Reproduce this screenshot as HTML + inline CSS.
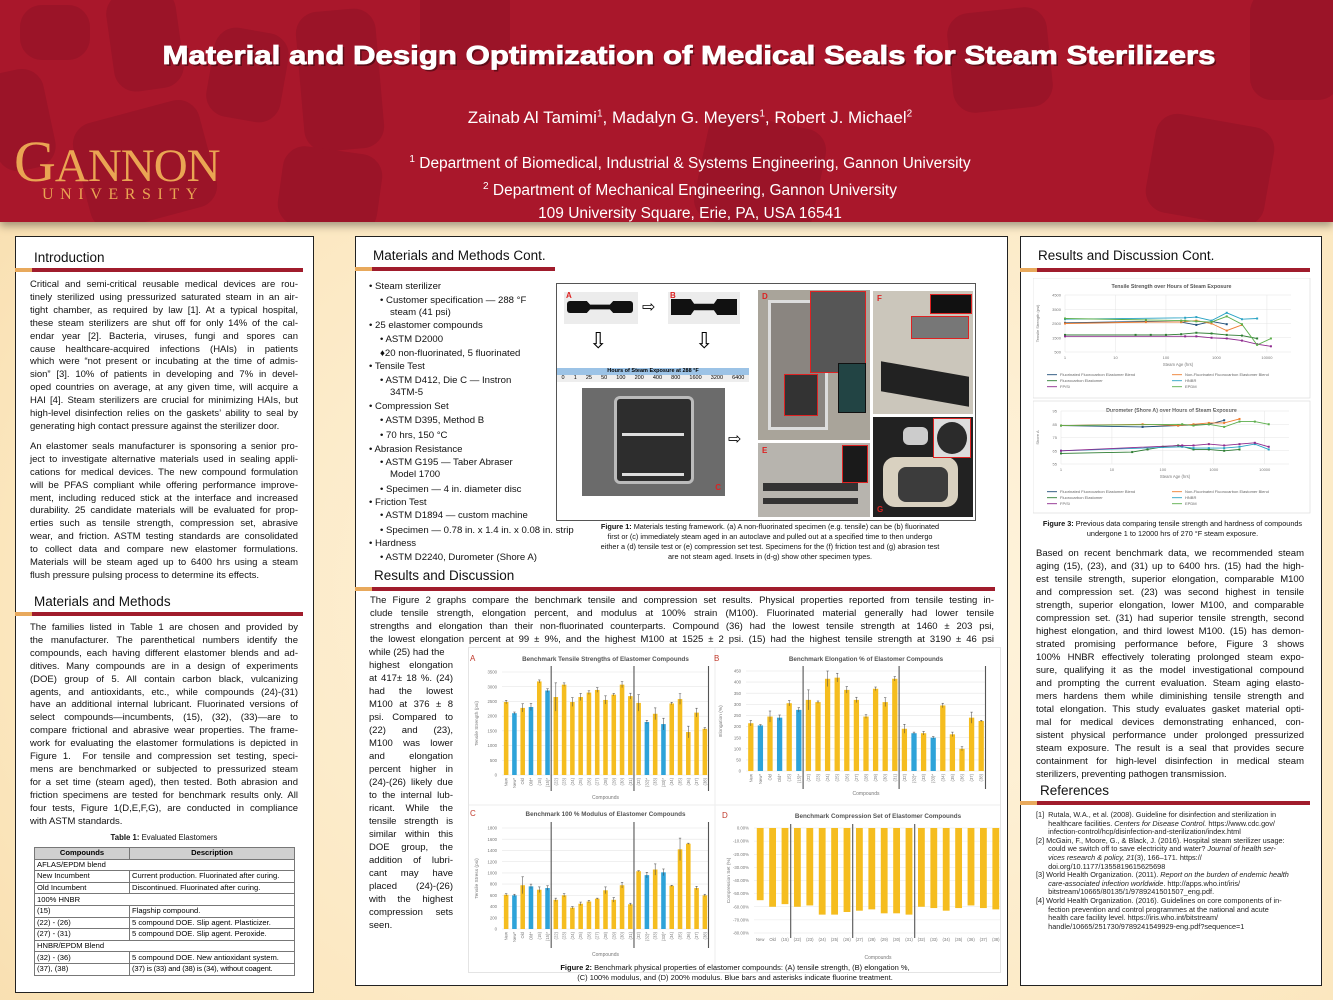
<!DOCTYPE html>
<html><head><meta charset="utf-8">
<style>
*{margin:0;padding:0;box-sizing:border-box}
body{width:1333px;height:1000px;overflow:hidden;position:relative;font-family:"Liberation Sans",Arial,sans-serif;background:radial-gradient(ellipse at 60% 60%,#fff6e3 0%,#fbe6bd 70%,#f6d9a6 100%);}
.abs{position:absolute}
.hdr{left:0;top:0;width:1333px;height:222px;background:#a9172b;box-shadow:0 4px 8px rgba(0,0,0,.35);overflow:hidden}
.blob{position:absolute;background:#9b1428;border-radius:22px}
.panel{position:absolute;background:#fff;border:1px solid #222}
.h{position:absolute;font-size:13.5px;color:#111}
.bar{position:absolute;height:4px;background:#a01c2c}
.bar::before{content:"";position:absolute;left:0;top:0;width:17px;height:4px;background:#e8a95c}
.txt{position:absolute;font-size:9.5px;line-height:12.9px;color:#111}
.txt div{text-align:justify;text-align-last:justify;white-space:nowrap}
.txt div.l{text-align-last:left}
.bl{position:absolute;font-size:9.6px;color:#111;white-space:nowrap}
table{border-collapse:collapse;font-size:7.6px;table-layout:fixed}
td,th{border:1px solid #777;padding:0 2px;height:11.6px;text-align:left;font-weight:normal;white-space:nowrap;overflow:hidden;line-height:10px}
th{background:#d0d0d0;text-align:center;font-weight:bold}
.cap{position:absolute;font-size:7.3px;text-align:center;color:#111;line-height:10px}
.ref{position:absolute;font-size:7.3px;line-height:8.6px;color:#222}
.ph{position:absolute}
</style></head><body>

<div class="abs hdr">
 <div class="blob" style="left:20px;top:5px;width:70px;height:55px"></div>
 <div class="blob" style="left:110px;top:-10px;width:70px;height:100px;transform:rotate(-8deg)"></div>
 <div class="blob" style="left:-10px;top:70px;width:60px;height:100px;transform:rotate(-12deg)"></div>
 <div class="blob" style="left:80px;top:110px;width:130px;height:110px;transform:rotate(-15deg)"></div>
 <div class="blob" style="left:210px;top:30px;width:75px;height:90px;transform:rotate(10deg)"></div>
 <div class="blob" style="left:300px;top:10px;width:80px;height:140px;transform:rotate(-5deg)"></div>
 <div class="blob" style="left:280px;top:150px;width:100px;height:80px;transform:rotate(8deg)"></div>
 <div class="blob" style="left:420px;top:-20px;width:90px;height:90px;"></div>
 <div class="blob" style="left:700px;top:120px;width:120px;height:110px;transform:rotate(12deg)"></div>
 <div class="blob" style="left:950px;top:10px;width:100px;height:100px;transform:rotate(-6deg)"></div>
 <div class="blob" style="left:1150px;top:120px;width:120px;height:100px;transform:rotate(10deg)"></div>
 <div class="blob" style="left:1250px;top:-10px;width:90px;height:110px;"></div>
</div>
<svg class="abs" style="left:0;top:0" width="1333" height="222">
 <text x="689" y="64" text-anchor="middle" font-family="Liberation Sans" font-weight="bold" font-size="26" fill="#000" opacity=".4" textLength="1053" lengthAdjust="spacingAndGlyphs" transform="translate(2,2)">Material and Design Optimization of Medical Seals for Steam Sterilizers</text>
 <text x="689" y="64" text-anchor="middle" font-family="Liberation Sans" font-weight="bold" font-size="26" fill="#fff" textLength="1053" lengthAdjust="spacingAndGlyphs" stroke="#fff" stroke-width=".8">Material and Design Optimization of Medical Seals for Steam Sterilizers</text>
</svg>
<div class="abs" style="left:380px;top:108px;width:620px;text-align:center;color:#fff;font-size:17px">Zainab Al Tamimi<sup style="font-size:10px">1</sup>, Madalyn G. Meyers<sup style="font-size:10px">1</sup>, Robert J. Michael<sup style="font-size:10px">2</sup></div>
<div class="abs" style="left:330px;top:148px;width:720px;text-align:center;color:#fff;font-size:15.5px;line-height:23px"><sup style="font-size:10px">1</sup> Department of Biomedical, Industrial &amp; Systems Engineering, Gannon University<br><sup style="font-size:10px">2</sup> Department of Mechanical Engineering, Gannon University<br>109 University Square, Erie, PA, USA 16541</div>
<div class="abs" style="left:14px;top:128px;font-family:'Liberation Serif',serif;font-size:58px;color:#eaa553;letter-spacing:-1px;transform:scaleX(1.0);transform-origin:left">G<span style="font-size:47px">ANNON</span></div>
<div class="abs" style="left:42px;top:186px;font-family:'Liberation Serif',serif;font-size:16px;color:#eaa553;letter-spacing:6.6px">UNIVERSITY</div>

<!-- LEFT PANEL -->
<div class="panel" style="left:15px;top:236px;width:299px;height:757px"></div>
<div class="h" style="left:34px;top:250px">Introduction</div>
<div class="bar" style="left:15px;top:268px;width:288px"></div>
<div class="txt" style="left:30px;top:279px;width:268px">
<div>Critical and semi-critical reusable medical devices are rou-</div>
<div>tinely sterilized using pressurized saturated steam in an air-</div>
<div>tight chamber, as required by law [1]. At a typical hospital,</div>
<div>these steam sterilizers are shut off for only 14% of the cal-</div>
<div>endar year [2]. Bacteria, viruses, fungi and spores can</div>
<div>cause healthcare-acquired infections (HAIs) in patients</div>
<div>which were “not present or incubating at the time of admis-</div>
<div>sion” [3]. 10% of patients in developing and 7% in devel-</div>
<div>oped countries on average, at any given time, will acquire a</div>
<div>HAI [4]. Steam sterilizers are crucial for minimizing HAIs, but</div>
<div>high-level disinfection relies on the gaskets’ ability to seal by</div>
<div class="l">generating high contact pressure against the sterilizer door.</div>
<div style="height:7px"></div>
<div>An elastomer seals manufacturer is sponsoring a senior pro-</div>
<div>ject to investigate alternative materials used in sealing appli-</div>
<div>cations for medical devices. The new compound formulation</div>
<div>will be PFAS compliant while offering performance improve-</div>
<div>ment, including reduced stick at the interface and increased</div>
<div>durability. 25 candidate materials will be evaluated for prop-</div>
<div>erties such as tensile strength, compression set, abrasive</div>
<div>wear, and friction. ASTM testing standards are consolidated</div>
<div>to collect data and compare new elastomer formulations.</div>
<div>Materials will be steam aged up to 6400 hrs using a steam</div>
<div class="l">flush pressure pulsing process to determine its effects.</div>
</div>
<div class="h" style="left:34px;top:594px">Materials and Methods</div>
<div class="bar" style="left:15px;top:612px;width:288px"></div>
<div class="txt" style="left:30px;top:622px;width:268px">
<div>The families listed in Table 1 are chosen and provided by</div>
<div>the manufacturer. The parenthetical numbers identify the</div>
<div>compounds, each having different elastomer blends and ad-</div>
<div>ditives. Many compounds are in a design of experiments</div>
<div>(DOE) group of 5. All contain carbon black, vulcanizing</div>
<div>agents, and antioxidants, etc., while compounds (24)-(31)</div>
<div>have an additional internal lubricant. Fluorinated versions of</div>
<div>select compounds—incumbents, (15), (32), (33)—are to</div>
<div>compare frictional and abrasive wear properties. The frame-</div>
<div>work for evaluating the elastomer formulations is depicted in</div>
<div>Figure 1.&nbsp; For tensile and compression set testing, speci-</div>
<div>mens are benchmarked or subjected to pressurized steam</div>
<div>for a set time (steam aged), then tested. Both abrasion and</div>
<div>friction specimens are tested for benchmark results only. All</div>
<div>four tests, Figure 1(D,E,F,G), are conducted in compliance</div>
<div class="l">with ASTM standards.</div>
</div>
<div class="cap" style="left:30px;top:833px;width:268px;font-size:7.8px"><b>Table 1:</b> Evaluated Elastomers</div>
<table class="abs" style="left:34px;top:847px;width:260px">
<colgroup><col style="width:95px"><col style="width:165px"></colgroup>
<tr><th>Compounds</th><th>Description</th></tr>
<tr><td colspan="2">AFLAS/EPDM blend</td></tr>
<tr><td>New Incumbent</td><td>Current production. Fluorinated after curing.</td></tr>
<tr><td>Old Incumbent</td><td>Discontinued. Fluorinated after curing.</td></tr>
<tr><td colspan="2">100% HNBR</td></tr>
<tr><td>(15)</td><td>Flagship compound.</td></tr>
<tr><td>(22) - (26)</td><td>5 compound DOE. Slip agent. Plasticizer.</td></tr>
<tr><td>(27) - (31)</td><td>5 compound DOE. Slip agent. Peroxide.</td></tr>
<tr><td colspan="2">HNBR/EPDM Blend</td></tr>
<tr><td>(32) - (36)</td><td>5 compound DOE. New antioxidant system.</td></tr>
<tr><td>(37), (38)</td><td style="letter-spacing:-0.2px">(37) is (33) and (38) is (34), without coagent.</td></tr>
</table>

<!-- MIDDLE PANEL -->
<div class="panel" style="left:355px;top:236px;width:653px;height:750px"></div>
<div class="h" style="left:373px;top:248px">Materials and Methods Cont.</div>
<div class="bar" style="left:355px;top:267px;width:200px"></div>
<div>
<div class="bl" style="left:369px;top:281px">• Steam sterilizer</div>
<div class="bl" style="left:380px;top:295px">• Customer specification — 288 °F</div>
<div class="bl" style="left:390px;top:307px">steam (41 psi)</div>
<div class="bl" style="left:369px;top:320px">• 25 elastomer compounds</div>
<div class="bl" style="left:380px;top:334px">• ASTM D2000</div>
<div class="bl" style="left:380px;top:348px">♦20 non-fluorinated, 5 fluorinated</div>
<div class="bl" style="left:369px;top:361px">• Tensile Test</div>
<div class="bl" style="left:380px;top:375px">• ASTM D412, Die C — Instron</div>
<div class="bl" style="left:390px;top:387px">34TM-5</div>
<div class="bl" style="left:369px;top:401px">• Compression Set</div>
<div class="bl" style="left:380px;top:415px">• ASTM D395, Method B</div>
<div class="bl" style="left:380px;top:430px">• 70 hrs, 150 °C</div>
<div class="bl" style="left:369px;top:444px">• Abrasion Resistance</div>
<div class="bl" style="left:380px;top:457px">• ASTM G195 — Taber Abraser</div>
<div class="bl" style="left:390px;top:469px">Model 1700</div>
<div class="bl" style="left:380px;top:484px">• Specimen — 4 in. diameter disc</div>
<div class="bl" style="left:369px;top:497px">• Friction Test</div>
<div class="bl" style="left:380px;top:510px">• ASTM D1894 — custom machine</div>
<div class="bl" style="left:380px;top:525px">• Specimen — 0.78 in. x 1.4 in. x 0.08 in. strip</div>
<div class="bl" style="left:369px;top:538px">• Hardness</div>
<div class="bl" style="left:380px;top:552px">• ASTM D2240, Durometer (Shore A)</div>
</div>

<!-- Figure 1 -->
<div class="abs" style="left:556px;top:283px;width:420px;height:238px;border:1px solid #555;background:#fff">
 <div class="ph" style="left:7px;top:8px;width:74px;height:32px;background:#ececec"><div style="position:absolute;left:3px;top:9px;width:66px;height:12px;background:#111;border-radius:3px;clip-path:polygon(0 0,30% 0,35% 30%,65% 30%,70% 0,100% 0,100% 100%,70% 100%,65% 70%,35% 70%,30% 100%,0 100%)"></div><span style="position:absolute;left:2px;top:-1px;color:#d22;font-size:8px;font-weight:bold">A</span></div>
 <div class="ph" style="left:85px;top:17px;font-size:16px;line-height:14px">⇨</div>
 <div class="ph" style="left:111px;top:8px;width:72px;height:32px;background:#ececec"><div style="position:absolute;left:3px;top:7px;width:66px;height:16px;background:#111;clip-path:polygon(0 0,30% 0,35% 30%,65% 30%,70% 0,100% 0,100% 100%,70% 100%,65% 70%,35% 70%,30% 100%,0 100%)"></div><span style="position:absolute;left:2px;top:-1px;color:#d22;font-size:8px;font-weight:bold">B</span></div>
 <div class="ph" style="left:32px;top:44px;font-size:22px">⇩</div>
 <div class="ph" style="left:138px;top:44px;font-size:22px">⇩</div>
 <div class="ph" style="left:0px;top:84px;width:192px;height:15px;font-size:5.5px;text-align:center;line-height:7px"><div style="background:#9cc3e6;font-weight:bold">Hours of Steam Exposure at 288 °F</div><div style="display:flex;justify-content:space-around;background:#eee"><span>0</span><span>1</span><span>25</span><span>50</span><span>100</span><span>200</span><span>400</span><span>800</span><span>1600</span><span>3200</span><span>6400</span></div></div>
 <div class="ph" style="left:25px;top:104px;width:143px;height:108px;background:#6b6b6b"><div style="position:absolute;left:32px;top:8px;width:80px;height:88px;background:#2d2d2d;border:3px solid #bbb;border-radius:6px"></div><div style="position:absolute;left:40px;top:45px;width:62px;height:3px;background:#ddd"></div><div style="position:absolute;left:40px;top:85px;width:62px;height:3px;background:#ddd"></div><span style="position:absolute;right:4px;bottom:4px;color:#d22;font-size:8px;font-weight:bold">C</span></div>
 <div class="ph" style="left:171px;top:145px;font-size:16px">⇨</div>
 <div class="ph" style="left:201px;top:6px;width:112px;height:150px;background:#a9a49a"><div style="position:absolute;left:10px;top:10px;width:60px;height:130px;border:3px solid #ddd;background:#8a8580"></div><div style="position:absolute;left:52px;top:1px;width:56px;height:82px;border:1px solid #d22;background:#565656"></div><div style="position:absolute;left:26px;top:84px;width:34px;height:42px;border:1px solid #d22;background:#333"></div><div style="position:absolute;left:80px;top:73px;width:28px;height:50px;background:#244;border:1px solid #111"></div><span style="position:absolute;left:4px;top:2px;color:#d22;font-size:8px;font-weight:bold">D</span></div>
 <div class="ph" style="left:201px;top:159px;width:112px;height:74px;background:#b7b4ae"><div style="position:absolute;left:84px;top:2px;width:26px;height:38px;border:1px solid #d22;background:#1a1a1a"></div><div style="position:absolute;left:5px;top:40px;width:95px;height:8px;background:#333"></div><div style="position:absolute;left:5px;top:55px;width:95px;height:6px;background:#333"></div><span style="position:absolute;left:4px;top:3px;color:#d22;font-size:8px;font-weight:bold">E</span></div>
 <div class="ph" style="left:316px;top:7px;width:100px;height:123px;background:#cbc6bb"><div style="position:absolute;left:57px;top:3px;width:42px;height:20px;border:1px solid #d22;background:#111"></div><div style="position:absolute;left:38px;top:25px;width:58px;height:23px;border:1px solid #d22;background:#777"></div><div style="position:absolute;left:8px;top:78px;width:88px;height:30px;background:#222;transform:skewY(10deg)"></div><span style="position:absolute;left:4px;top:3px;color:#d22;font-size:8px;font-weight:bold">F</span></div>
 <div class="ph" style="left:316px;top:133px;width:100px;height:100px;background:#222"><div style="position:absolute;left:10px;top:40px;width:75px;height:50px;background:#d9d1c0;border-radius:12px"></div><div style="position:absolute;left:25px;top:50px;width:50px;height:35px;background:#3c3c3c;border-radius:8px"></div><div style="position:absolute;left:60px;top:1px;width:38px;height:40px;border:1px solid #d22;background:#ddd"><div style="margin:3px;width:30px;height:32px;border-radius:50%;background:#2b2b2b"></div></div><div style="position:absolute;left:30px;top:10px;width:25px;height:18px;background:#ccc;border-radius:6px"></div><span style="position:absolute;left:4px;bottom:3px;color:#d22;font-size:8px;font-weight:bold">G</span></div>
</div>
<div class="cap" style="left:600px;top:522px;width:340px"><b>Figure 1:</b> Materials testing framework. (a) A non-fluorinated specimen (e.g. tensile) can be (b) fluorinated first or (c) immediately steam aged in an autoclave and pulled out at a specified time to then undergo either a (d) tensile test or (e) compression set test. Specimens for the (f) friction test and (g) abrasion test are not steam aged. Insets in (d-g) show other specimen types.</div>

<div class="h" style="left:374px;top:568px">Results and Discussion</div>
<div class="bar" style="left:355px;top:587px;width:640px"></div>
<div class="txt" style="left:370px;top:595px;width:624px">
<div>The Figure 2 graphs compare the benchmark tensile and compression set results. Physical properties reported from tensile testing in-</div>
<div>clude tensile strength, elongation percent, and modulus at 100% strain (M100). Fluorinated material generally had lower tensile</div>
<div>strengths and elongation than their non-fluorinated counterparts. Compound (36) had the lowest tensile strength at 1460 ± 203 psi,</div>
<div>the lowest elongation percent at 99 ± 9%, and the highest M100 at 1525 ± 2 psi. (15) had the highest tensile strength at 3190 ± 46 psi</div>
</div>
<div class="txt" style="left:369px;top:646px;width:84px;line-height:13px">
<div class="l">while (25) had the</div><div>highest elongation</div><div>at 417± 18 %. (24)</div><div>had the lowest</div><div>M100 at 376 ± 8</div><div>psi. Compared to</div><div>(22) and (23),</div><div>M100 was lower</div><div>and elongation</div><div>percent higher in</div><div>(24)-(26) likely due</div><div>to the internal lub-</div><div>ricant. While the</div><div>tensile strength is</div><div>similar within this</div><div>DOE group, the</div><div>addition of lubri-</div><div>cant may have</div><div>placed (24)-(26)</div><div>with the highest</div><div>compression sets</div><div class="l">seen.</div>
</div>

<svg class="abs" id="fig2" style="left:468px;top:647px;border:1px solid #e4e4e4;background:#fff" width="533" height="326"></svg>
<div class="cap" style="left:520px;top:963px;width:430px;font-size:7.5px"><b>Figure 2:</b> Benchmark physical properties of elastomer compounds: (A) tensile strength, (B) elongation %,<br>(C) 100% modulus, and (D) 200% modulus. Blue bars and asterisks indicate fluorine treatment.</div>

<!-- RIGHT PANEL -->
<div class="panel" style="left:1020px;top:236px;width:302px;height:750px"></div>
<div class="h" style="left:1038px;top:248px">Results and Discussion Cont.</div>
<div class="bar" style="left:1020px;top:268px;width:290px"></div>
<svg class="abs" id="fig3" style="left:1033px;top:278px" width="278" height="236"></svg>
<div class="cap" style="left:1040px;top:519px;width:265px"><b>Figure 3:</b> Previous data comparing tensile strength and hardness of compounds undergone 1 to 12000 hrs of 270 °F steam exposure.</div>
<div class="txt" style="left:1036px;top:547px;width:268px;line-height:13px">
<div>Based on recent benchmark data, we recommended steam</div>
<div>aging (15), (23), and (31) up to 6400 hrs. (15) had the high-</div>
<div>est tensile strength, superior elongation, comparable M100</div>
<div>and compression set. (23) was second highest in tensile</div>
<div>strength, superior elongation, lower M100, and comparable</div>
<div>compression set. (31) had superior tensile strength, second</div>
<div>highest elongation, and third lowest M100. (15) has demon-</div>
<div>strated promising performance before, Figure 3 shows</div>
<div>100% HNBR effectively tolerating prolonged steam expo-</div>
<div>sure, qualifying it as the model investigational compound</div>
<div>and prompting the current evaluation. Steam aging elasto-</div>
<div>mers hardens them while diminishing tensile strength and</div>
<div>total elongation. This study evaluates gasket material opti-</div>
<div>mal for medical devices demonstrating enhanced, con-</div>
<div>sistent physical performance under prolonged pressurized</div>
<div>steam exposure. The result is a seal that provides secure</div>
<div>containment for high-level disinfection in medical steam</div>
<div class="l">sterilizers, preventing pathogen transmission.</div>
</div>
<div class="h" style="left:1040px;top:783px">References</div>
<div class="bar" style="left:1020px;top:801px;width:290px"></div>
<div class="ref" style="left:1036px;top:811px;width:270px">
<div>[1]&nbsp; Rutala, W.A., et al. (2008). Guideline for disinfection and sterilization in<br>&nbsp;&nbsp;&nbsp;&nbsp;&nbsp;&nbsp;healthcare facilities. <i>Centers for Disease Control.</i> https://www.cdc.gov/<br>&nbsp;&nbsp;&nbsp;&nbsp;&nbsp;&nbsp;infection-control/hcp/disinfection-and-sterilization/index.html</div>
<div>[2] McGain, F., Moore, G., &amp; Black, J. (2016). Hospital steam sterilizer usage:<br>&nbsp;&nbsp;&nbsp;&nbsp;&nbsp;&nbsp;could we switch off to save electricity and water? <i>Journal of health ser-<br>&nbsp;&nbsp;&nbsp;&nbsp;&nbsp;&nbsp;vices research &amp; policy, 21</i>(3), 166–171. https://<br>&nbsp;&nbsp;&nbsp;&nbsp;&nbsp;&nbsp;doi.org/10.1177/1355819615625698</div>
<div>[3] World Health Organization. (2011). <i>Report on the burden of endemic health<br>&nbsp;&nbsp;&nbsp;&nbsp;&nbsp;&nbsp;care-associated infection worldwide</i>. http://apps.who.int/iris/<br>&nbsp;&nbsp;&nbsp;&nbsp;&nbsp;&nbsp;bitstream/10665/80135/1/9789241501507_eng.pdf.</div>
<div>[4] World Health Organization. (2016). Guidelines on core components of in-<br>&nbsp;&nbsp;&nbsp;&nbsp;&nbsp;&nbsp;fection prevention and control programmes at the national and acute<br>&nbsp;&nbsp;&nbsp;&nbsp;&nbsp;&nbsp;health care facility level. https://iris.who.int/bitstream/<br>&nbsp;&nbsp;&nbsp;&nbsp;&nbsp;&nbsp;handle/10665/251730/9789241549929-eng.pdf?sequence=1</div>
</div>

<script>
// ---- Figure 2 data ----
const compounds = ["New","New*","Old","Old*","(15)","(15)*","(22)","(23)","(24)","(25)","(26)","(27)","(28)","(29)","(30)","(31)","(32)","(32)*","(33)","(33)*","(34)","(35)","(36)","(37)","(38)"];
const fluorinated = [0,1,0,1,0,1,0,0,0,0,0,0,0,0,0,0,0,1,0,1,0,0,0,0,0];
const tensile = [2480,2100,2280,2310,3180,2870,2650,3070,2480,2650,2800,2890,2550,2730,3070,2680,2450,1800,2080,1730,2430,2580,1460,2120,1570];
const tensileErr = [60,40,140,120,50,60,480,60,150,120,60,80,140,40,100,100,280,60,200,200,40,180,200,150,40];
const elongation = [215,205,245,240,305,275,320,310,415,420,365,320,245,370,310,415,190,170,170,150,295,165,100,240,225];
const elongationErr = [12,4,25,12,12,10,45,5,35,20,15,12,8,8,20,10,20,5,8,5,10,10,9,25,3];
const modulus = [610,600,780,760,700,730,520,600,380,450,490,540,690,520,780,440,1030,960,1060,1010,770,1420,1520,730,600];
const modulusErr = [20,20,150,40,50,40,30,30,20,30,20,10,60,40,50,20,10,50,100,60,10,200,10,30,20];
const csCompounds = ["New","Old","(15)","(22)","(23)","(24)","(25)","(26)","(27)","(28)","(29)","(30)","(31)","(32)","(33)","(34)","(35)","(36)","(37)","(38)"];
const compressionSet = [-55,-60,-58,-60,-59,-66,-66,-64,-63,-62,-65,-65,-66,-60,-61,-63,-61,-59,-61,-62];
const groupBreaks = [6,16,25];
const csGroupBreaks = [3,8,13,20];
const tensileTicks = [0,500,1000,1500,2000,2500,3000,3500];
const elongTicks = [0,50,100,150,200,250,300,350,400,450];
const modTicks = [0,200,400,600,800,1000,1200,1400,1600,1800];
const csTicks = [0,-10,-20,-30,-40,-50,-60,-70,-80];

// ---- Figure 3 data ----
const seriesNames = ["Fluorinated Fluorocarbon Elastomer Blend","Non-Fluorinated Fluorocarbon Elastomer Blend","Fluorocarbon Elastomer","HNBR","FP/Si","EPDM"];
const seriesColors = ["#1f4e79","#ed7d31","#2e7d32","#2aa3c4","#8e2a8e","#5cae4c"];
const tsHours = [[1,40,200,400,800,1600],[1,40,200,400,800,1600,3200],[1,25,50,100,200,400,800,1600,3200,6400],[1,240,400,800,1600,3200,6400],[1,240,400,800,1600,3200,6400,12000],[1,40,200,240,400,800,1600,3200,6400,12000]];
const tsValues = [[2550,2650,2600,2400,2650,2450],[2500,2600,2600,2700,2500,2000,2400],[1700,1700,1700,1700,1750,1850,1800,1700,1650,1450],[2800,2900,2950,2700,3250,2800,2850],[1600,1600,1600,1500,1450,1300,1050,900],[2850,2750,2700,2700,2650,2600,3000,2450,1000,1450]];
const duHours = [[1,40,200,800,1600],[1,40,200,400,800,1600,3200],[1,25,50,100,200,400,800,1600,3200],[1,240,400,800,1600,3200,6400,12000],[1,240,400,800,1600,3200,6400,12000],[1,240,400,800,1600,3200,6400,12000]];
const duValues = [[84,83,84,85,88],[84,85,84,85,86,86,89],[63,64,66,68,69,66,66,65,66],[65,68,67,67,67,68,70,66],[65,69,69,70,69,70,71,68],[84,85,84,85,83,87,87,85]];
const tsTicks = [500,1500,2500,3500,4500];
const duTicks = [55,65,75,85,95];
const logTicks = [1,10,100,1000,10000];

const NS="http://www.w3.org/2000/svg";
function el(parent,tag,attrs,text){const e=document.createElementNS(NS,tag);for(const k in attrs)e.setAttribute(k,attrs[k]);if(text!==undefined)e.textContent=text;parent.appendChild(e);return e;}

function barChart(svg,o){
  const g=el(svg,"g",{});
  
  
  const vmin=o.ticks.reduce((a,b)=>Math.min(a,b)),vmax=o.ticks.reduce((a,b)=>Math.max(a,b));
  const y=v=>o.yBot-(v-vmin)/(vmax-vmin)*(o.yBot-o.yTop);
  const n=o.cats.length,slot=(o.x1-o.x0)/n;
  const x=i=>o.x0+slot*i;
  const t=el(g,"text",{x:(o.x0+o.x1)/2,y:o.titleY,"text-anchor":"middle","font-size":"6.3","font-weight":"bold",fill:"#555"},o.title);
  
  
  const L=el(g,"text",{x:o.x0-32,y:o.titleY,"font-size":"8",fill:"#c0392b"},o.letter);
  
  
  o.ticks.forEach(tv=>{
    el(g,"line",{x1:o.x0,x2:o.x1,y1:y(tv),y2:y(tv),stroke:"#e6e6e6","stroke-width":"0.6"});
    const tl=el(g,"text",{x:o.x0-5,y:y(tv)+1.6,"text-anchor":"end","font-size":"4.3",fill:"#777"},o.fmt(tv));
    
    
  });
  const yt=el(g,"text",{x:0,y:0,"text-anchor":"middle","font-size":"4.8",fill:"#777",transform:`translate(${o.x0-24},${(o.yTop+o.yBot)/2}) rotate(-90)`},o.yTitle);
  
  
  o.vals.forEach((v,i)=>{
    const bw=slot*0.55,bx=x(i)+(slot-bw)/2;
    const y0=y(0),yv=y(v);
    const r=el(g,"rect",{x:bx,y:Math.min(y0,yv),width:bw,height:Math.abs(yv-y0),fill:(o.blue&&o.blue[i])?"#2ea3d9":"#f5bd1f"});
    
    
    if(o.errs){const cx=bx+bw/2,e=o.errs[i];
      el(g,"line",{x1:cx,x2:cx,y1:y(v+e),y2:y(v-e),stroke:"#444","stroke-width":"0.5"});
      el(g,"line",{x1:cx-1.2,x2:cx+1.2,y1:y(v+e),y2:y(v+e),stroke:"#444","stroke-width":"0.5"});}
    if(o.rotLabels){
      const cl=el(g,"text",{x:0,y:0,"text-anchor":"end","font-size":"4.2",fill:"#777",transform:`translate(${x(i)+slot/2+1.5},${o.yBot+3}) rotate(-90)`},o.cats[i]);
      
      
    } else {
      const cl=el(g,"text",{x:x(i)+slot/2,y:o.labY,"text-anchor":"middle","font-size":"4.2",fill:"#777"},o.cats[i]);
      
      
    }
  });
  o.breaks.forEach(b=>{
    el(g,"line",{x1:x(b)-0.5,x2:x(b)-0.5,y1:o.sepTop,y2:o.sepBot,stroke:"#555","stroke-width":"1.1"});
  });
  const xt=el(g,"text",{x:(o.x0+o.x1)/2,y:o.xTitleY,"text-anchor":"middle","font-size":"5",fill:"#777"},"Compounds");
  
  
}
const f2=document.getElementById("fig2");
el(f2,"line",{x1:246,x2:246,y1:0,y2:326,stroke:"#eee"});
el(f2,"line",{x1:0,x2:533,y1:157,y2:157,stroke:"#eee"});
barChart(f2,{name:"chart-tensile",letter:"A",title:"Benchmark Tensile Strengths of Elastomer Compounds",titleY:13,cats:compounds,vals:tensile,errs:tensileErr,blue:fluorinated,x0:33,x1:240,yTop:24,yBot:127,ticks:tensileTicks,fmt:v=>v,yTitle:"Tensile Strength (psi)",rotLabels:true,breaks:groupBreaks,sepTop:18,sepBot:143,xTitleY:151});
barChart(f2,{name:"chart-elongation",letter:"B",title:"Benchmark Elongation % of Elastomer Compounds",titleY:13,cats:compounds,vals:elongation,errs:elongationErr,blue:fluorinated,x0:277,x1:517,yTop:23,yBot:123,ticks:elongTicks,fmt:v=>v,yTitle:"Elongation (%)",rotLabels:true,breaks:groupBreaks,sepTop:18,sepBot:141,xTitleY:147});
barChart(f2,{name:"chart-modulus",letter:"C",title:"Benchmark 100 % Modulus of Elastomer Compounds",titleY:168,cats:compounds,vals:modulus,errs:modulusErr,blue:fluorinated,x0:33,x1:240,yTop:180,yBot:281,ticks:modTicks,fmt:v=>v,yTitle:"Tensile Stress (psi)",rotLabels:true,breaks:groupBreaks,sepTop:174,sepBot:300,xTitleY:308});
barChart(f2,{name:"chart-compression-set",letter:"D",title:"Benchmark Compression Set of Elastomer Compounds",titleY:170,cats:csCompounds,vals:compressionSet,errs:null,blue:null,x0:285,x1:533,yTop:180,yBot:285,ticks:csTicks.slice().reverse(),fmt:v=>v.toFixed(2)+"%",yTitle:"Compression Set (%)",rotLabels:false,labY:293,breaks:csGroupBreaks,sepTop:176,sepBot:290,xTitleY:311});

function lineChart(svg,o){
  const g=el(svg,"g",{});
  
  
  el(g,"rect",{x:o.bx,y:o.by,width:o.bw,height:o.bh,fill:"#fff",stroke:"#ddd","stroke-width":"0.7"});
  const lmin=0,lmax=Math.log10(o.xmax);
  const x=h=>o.x0+(Math.log10(h)-lmin)/(lmax-lmin)*(o.x1-o.x0);
  const vmin=o.ticks[0],vmax=o.ticks[o.ticks.length-1];
  const y=v=>o.yBot-(v-vmin)/(vmax-vmin)*(o.yBot-o.yTop);
  const t=el(g,"text",{x:(o.bx+o.bw/2),y:o.titleY,"text-anchor":"middle","font-size":"5.3","font-weight":"bold",fill:"#555"},o.title);
  
  
  o.ticks.forEach(tv=>{
    el(g,"line",{x1:o.x0,x2:o.x1,y1:y(tv),y2:y(tv),stroke:"#e4e4e4","stroke-width":"0.5"});
    const tl=el(g,"text",{x:o.x0-4,y:y(tv)+1.5,"text-anchor":"end","font-size":"4",fill:"#777"},tv);
    
    
  });
  logTicks.forEach(h=>{
    el(g,"line",{x1:x(h),x2:x(h),y1:o.yTop,y2:o.yBot,stroke:"#e4e4e4","stroke-width":"0.5"});
    const tl=el(g,"text",{x:x(h),y:o.yBot+7,"text-anchor":"middle","font-size":"4",fill:"#777"},h);
    
    
  });
  const xt=el(g,"text",{x:(o.x0+o.x1)/2,y:o.yBot+14,"text-anchor":"middle","font-size":"4.2",fill:"#777"},"Steam Age (hrs)");
  
  
  const yt=el(g,"text",{x:0,y:0,"text-anchor":"middle","font-size":"4",fill:"#777",transform:`translate(${o.bx+6},${(o.yTop+o.yBot)/2}) rotate(-90)`},o.yTitle);
  
  
  o.hours.forEach((hs,s)=>{
    const pts=hs.map((h,i)=>x(h).toFixed(1)+","+y(o.vals[s][i]).toFixed(1)).join(" ");
    const pl=el(g,"polyline",{points:pts,fill:"none",stroke:seriesColors[s],"stroke-width":"0.9"});
    
    
    hs.forEach((h,i)=>{el(g,"rect",{x:x(h)-1,y:y(o.vals[s][i])-1,width:2,height:2,fill:seriesColors[s]});});
  });
  seriesNames.forEach((nm,s)=>{
    const lx=o.bx+14+(s%2)*125, ly=o.legY+Math.floor(s/2)*6;
    el(g,"line",{x1:lx,x2:lx+10,y1:ly-1.3,y2:ly-1.3,stroke:seriesColors[s],"stroke-width":"0.9"});
    const lt=el(g,"text",{x:lx+13,y:ly,"font-size":"4",fill:"#666"},nm);
    
    
  });
}
const f3=document.getElementById("fig3");
lineChart(f3,{name:"chart-tensile-aging",bx:0,by:0,bw:277,bh:120,title:"Tensile Strength over Hours of Steam Exposure",titleY:10,x0:32,x1:258,xmax:30000,yTop:17,yBot:74,ticks:tsTicks,hours:tsHours,vals:tsValues,yTitle:"Tensile Strength (psi)",legY:98});
lineChart(f3,{name:"chart-durometer-aging",bx:0,by:123,bw:277,bh:112,title:"Durometer (Shore A) over Hours of Steam Exposure",titleY:134,x0:28,x1:256,xmax:30000,yTop:133,yBot:186,ticks:duTicks,hours:duHours,vals:duValues,yTitle:"Shore A",legY:215});
</script>
</body></html>
